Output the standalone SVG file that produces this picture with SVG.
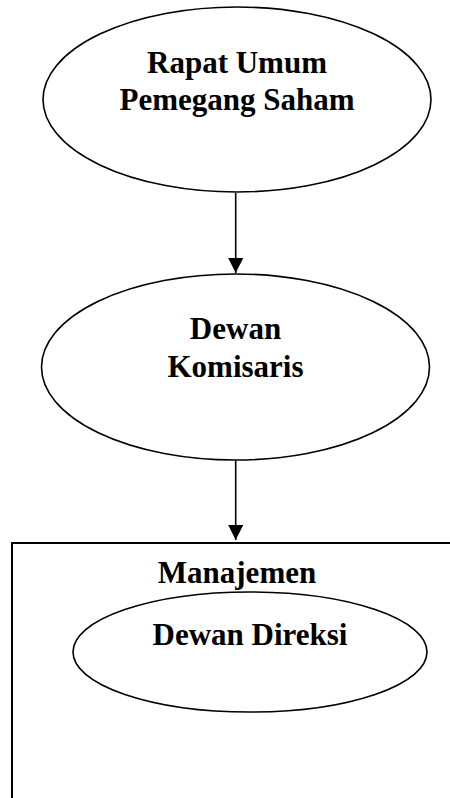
<svg xmlns="http://www.w3.org/2000/svg" width="450" height="798" viewBox="0 0 450 798">
<style>
.shape{fill:#fff;stroke:#000;stroke-width:1.6}
.box{fill:none;stroke:#000;stroke-width:2}
.lbl{font-family:"Liberation Serif","Times New Roman",serif;font-weight:bold;font-size:31px;fill:#000;text-anchor:middle}
.conn{stroke:#000;stroke-width:1.6;fill:none}
</style>
<defs>
<marker id="arr" markerWidth="15" markerHeight="15" refX="15" refY="7.5" orient="auto" markerUnits="userSpaceOnUse">
<path d="M0,0 L15,7.5 L0,15 Z" fill="#000"/>
</marker>
</defs>
<rect width="450" height="798" fill="#fff"/>
<g id="manajemen">
<rect class="box" x="12" y="543" width="460" height="300"/>
<text class="lbl" x="237" y="583">Manajemen</text>
</g>
<g id="rups">
<ellipse class="shape" cx="237" cy="99.5" rx="194" ry="92.5"/>
<text class="lbl" x="237" y="72.5">Rapat Umum</text>
<text class="lbl" x="237" y="110">Pemegang Saham</text>
</g>
<g id="komisaris">
<ellipse class="shape" cx="235.5" cy="367" rx="194" ry="93"/>
<text class="lbl" x="235.5" y="339">Dewan</text>
<text class="lbl" x="235.5" y="376.5">Komisaris</text>
</g>
<g id="direksi">
<ellipse class="shape" cx="250" cy="652" rx="177" ry="60"/>
<text class="lbl" x="250" y="645">Dewan Direksi</text>
</g>
<g id="connectors">
<line class="conn" x1="235.7" y1="193" x2="235.7" y2="273" marker-end="url(#arr)"/>
<line class="conn" x1="235.7" y1="460" x2="235.7" y2="540" marker-end="url(#arr)"/>
</g>
</svg>
